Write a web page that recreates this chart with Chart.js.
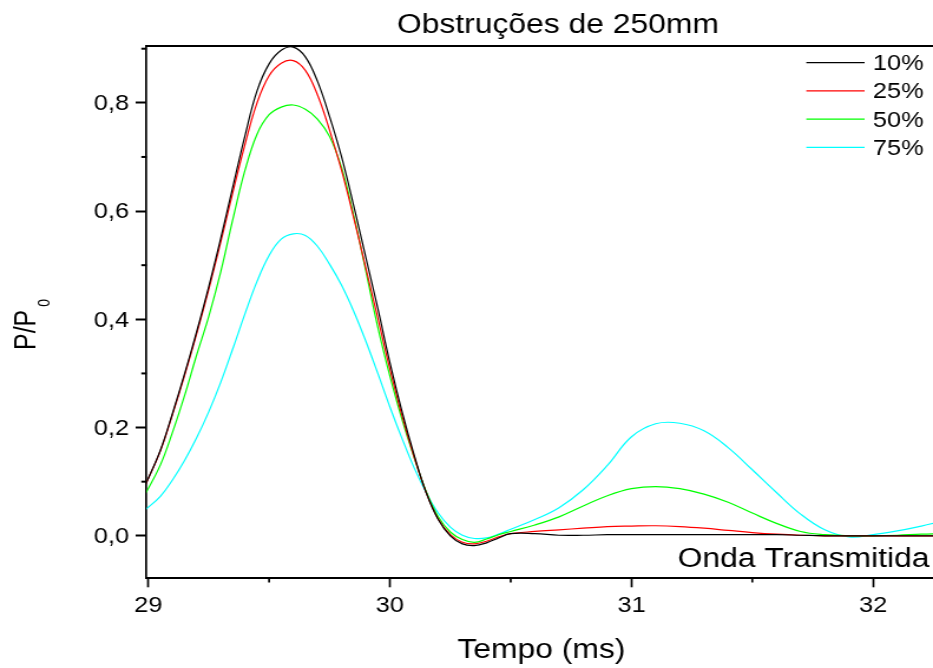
<!DOCTYPE html>
<html>
<head>
<meta charset="utf-8">
<script src="https://cdn.jsdelivr.net/npm/chart.js@4.4.1/dist/chart.umd.min.js"></script>
<style>
  html, body { margin: 0; padding: 0; background: #fff; }
</style>
</head>
<body>
<!-- the original picture is stretched sideways, so the chart is drawn narrow and widened by css -->
<canvas id="chart" width="791" height="668" style="display:block;width:933px;height:668px;"></canvas>
<script>
const tempo = [28.99, 29.05, 29.1, 29.15, 29.2, 29.25, 29.3, 29.35, 29.4, 29.45, 29.5, 29.55,
  29.6, 29.65, 29.7, 29.75, 29.8, 29.85, 29.9, 29.95, 30.0, 30.05, 30.1, 30.15, 30.2, 30.25, 30.3, 30.35, 30.4, 30.45, 30.5,
  30.6, 30.7, 30.8, 30.9, 31.0, 31.1, 31.2, 31.3, 31.4, 31.5, 31.6, 31.7, 31.8, 31.9, 32.0, 32.1, 32.2, 32.3];

const obs10 = [0.096, 0.158, 0.226, 0.299, 0.377, 0.460, 0.550, 0.645, 0.739, 0.822, 0.872, 0.897,
  0.903, 0.885, 0.840, 0.775, 0.700, 0.610, 0.515, 0.420, 0.320, 0.230, 0.150, 0.080, 0.030, 0.000, -0.015, -0.018, -0.013, -0.004, 0.004,
  0.004, 0.001, 0.001, 0.002, 0.002, 0.002, 0.002, 0.002, 0.002, 0.002, 0.002, 0.001, 0.000, 0.000, 0.000, 0.000, 0.000, 0.000];

const obs25 = [0.096, 0.157, 0.224, 0.296, 0.373, 0.455, 0.543, 0.635, 0.723, 0.800, 0.850, 0.873,
  0.878, 0.860, 0.815, 0.750, 0.675, 0.588, 0.495, 0.402, 0.308, 0.222, 0.146, 0.080, 0.031, 0.002, -0.012, -0.015, -0.010, -0.002, 0.004,
  0.008, 0.011, 0.014, 0.017, 0.018, 0.0185, 0.017, 0.014, 0.010, 0.006, 0.003, 0.001, 0.000, 0.000, 0.000, 0.000, 0.000, 0.000];

const obs50 = [0.079, 0.131, 0.191, 0.259, 0.334, 0.405, 0.488, 0.585, 0.675, 0.742, 0.778, 0.792,
  0.796, 0.788, 0.770, 0.738, 0.680, 0.592, 0.490, 0.385, 0.295, 0.215, 0.145, 0.082, 0.035, 0.007, -0.007, -0.012, -0.006, 0.002, 0.008,
  0.020, 0.035, 0.055, 0.074, 0.087, 0.091, 0.087, 0.077, 0.062, 0.042, 0.023, 0.008, 0.002, 0.000, 0.000, 0.001, 0.003, 0.004];

const obs75 = [0.049, 0.073, 0.103, 0.139, 0.181, 0.229, 0.284, 0.346, 0.410, 0.470, 0.518, 0.548,
  0.558, 0.555, 0.535, 0.502, 0.463, 0.415, 0.360, 0.300, 0.238, 0.180, 0.126, 0.080, 0.042, 0.016, 0.001, -0.005, -0.004, 0.003, 0.012,
  0.030, 0.052, 0.085, 0.130, 0.183, 0.207, 0.208, 0.194, 0.163, 0.122, 0.080, 0.040, 0.011, -0.002, 0.002, 0.009, 0.018, 0.028];

const seriesLabels = ['10%', '25%', '50%', '75%'];
const seriesColors = ['#000000', '#ff0000', '#00ff00', '#00ffff'];

const xTickValues = [29, 30, 31, 32];
const xTickLabels = ['29', '30', '31', '32'];
const xMinorTicks = [29.5, 30.5, 31.5];
const yTickValues = [0, 0.2, 0.4, 0.6, 0.8];
const yTickLabels = ['0,0', '0,2', '0,4', '0,6', '0,8'];
const yMinorTicks = [0.1, 0.3, 0.5, 0.7, 0.9];

const FONT = '"Liberation Sans", Arial, sans-serif';
Chart.defaults.font.family = FONT;
Chart.defaults.color = '#000';

function series(values) {
  return tempo.map((t, i) => ({ x: t, y: values[i] }));
}

const decorPlugin = {
  id: 'decor',
  afterDraw(chart) {
    const { ctx, chartArea: area, scales } = chart;
    const x = scales.x;
    const y = scales.y;
    ctx.save();
    ctx.strokeStyle = '#000';
    ctx.fillStyle = '#000';

    // top frame line
    ctx.lineWidth = 2;
    ctx.beginPath();
    ctx.moveTo(area.left - 0.85, area.top);
    ctx.lineTo(chart.width, area.top);
    ctx.stroke();

    // minor ticks
    ctx.lineWidth = 2;
    yMinorTicks.forEach((v) => {
      const py = y.getPixelForValue(v);
      ctx.beginPath();
      ctx.moveTo(area.left - 4.5, py);
      ctx.lineTo(area.left, py);
      ctx.stroke();
    });
    ctx.lineWidth = 1.7;
    xMinorTicks.forEach((v) => {
      const px = x.getPixelForValue(v);
      ctx.beginPath();
      ctx.moveTo(px, area.bottom);
      ctx.lineTo(px, area.bottom + 4.5);
      ctx.stroke();
    });

    // legend
    ctx.font = `21.5px ${FONT}`;
    ctx.textAlign = 'left';
    ctx.textBaseline = 'middle';
    chart.data.datasets.forEach((ds, i) => {
      const rowY = 62.7 + i * 28.2;
      ctx.strokeStyle = ds.borderColor;
      ctx.lineWidth = 1.3;
      ctx.beginPath();
      ctx.moveTo(683.6, rowY);
      ctx.lineTo(733, rowY);
      ctx.stroke();
      ctx.fillText(ds.label, 740, rowY + 1.5);
    });

    // titles
    ctx.textBaseline = 'alphabetic';
    ctx.textAlign = 'center';
    ctx.font = `27px ${FONT}`;
    ctx.fillText('Obstruções de 250mm', 473, 32.5);
    ctx.fillText('Tempo (ms)', 459, 658);

    ctx.textAlign = 'right';
    ctx.fillText('Onda Transmitida', 788, 566.5);

    // y title with subscript
    ctx.save();
    ctx.translate(29.7, 350);
    ctx.rotate(-Math.PI / 2);
    ctx.textAlign = 'left';
    ctx.font = `25px ${FONT}`;
    ctx.fillText('P/P', 0, 0);
    const w = ctx.measureText('P/P').width;
    ctx.font = `14px ${FONT}`;
    ctx.fillText('0', w + 3, 12);
    ctx.restore();

    ctx.restore();
  },
};

new Chart(document.getElementById('chart'), {
  type: 'line',
  data: {
    datasets: seriesLabels.map((label, i) => ({
      label,
      data: series([obs10, obs25, obs50, obs75][i]),
      borderColor: seriesColors[i],
      borderWidth: 1.2,
      pointRadius: 0,
      fill: false,
      tension: 0.4,
    })),
  },
  options: {
    responsive: false,
    animation: false,
    devicePixelRatio: 1,
    layout: { padding: { top: 46, left: 0, right: 0, bottom: 0 } },
    plugins: {
      legend: { display: false },
      tooltip: { enabled: false },
      title: { display: false },
    },
    scales: {
      x: {
        type: 'linear',
        min: 28.993,
        max: 32.248,
        afterFit: (s) => { s.height = 90; },
        afterBuildTicks: (s) => { s.ticks = xTickValues.map((v) => ({ value: v })); },
        ticks: {
          callback: (v, i) => xTickLabels[i],
          font: { size: 21.5 },
          color: '#000',
          padding: 6,
          maxRotation: 0,
        },
        grid: {
          drawOnChartArea: false,
          drawTicks: true,
          tickLength: 9.3,
          tickWidth: 1.7,
          tickColor: '#000',
          color: '#000',
        },
        border: { display: true, color: '#000', width: 2 },
      },
      y: {
        min: -0.078,
        max: 0.905,
        afterFit: (s) => { s.width = 124.3; },
        afterBuildTicks: (s) => { s.ticks = yTickValues.map((v) => ({ value: v })); },
        ticks: {
          callback: (v, i) => yTickLabels[i],
          font: { size: 21.5 },
          color: '#000',
          padding: 5.6,
          labelOffset: 1.5,
        },
        grid: {
          drawOnChartArea: false,
          drawTicks: true,
          tickLength: 9.3,
          tickWidth: 2,
          tickColor: '#000',
          color: '#000',
        },
        border: { display: true, color: '#000', width: 1.7 },
      },
    },
  },
  plugins: [decorPlugin],
});
</script>
</body>
</html>
